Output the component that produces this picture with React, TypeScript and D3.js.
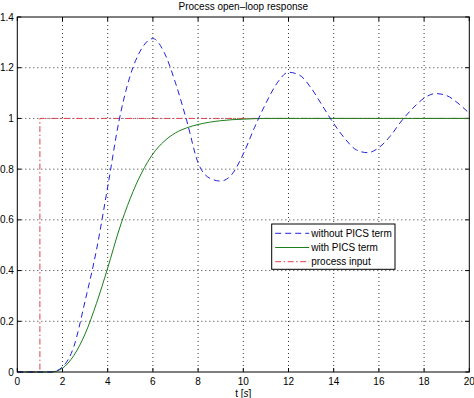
import React, { useRef, useEffect } from 'react';
import * as d3 from 'd3';

// time samples [s]
const tValues = [0, 1, 1.5, 2, 2.5, 3, 3.5, 4, 4.5, 5, 5.5, 6, 6.5, 7, 7.5, 8, 8.5, 9, 9.5, 10,
  10.5, 11, 11.5, 12, 12.5, 13, 13.5, 14, 14.5, 15, 15.5, 16, 16.5, 17, 17.5, 18, 18.5, 19, 19.5, 20];

// response without PICS term
const withoutPics = [0, 0, 0, 0.02, 0.1, 0.28, 0.48, 0.73, 0.99, 1.17, 1.275, 1.315, 1.26, 1.14, 0.99, 0.825, 0.765, 0.753, 0.78, 0.86,
  0.965, 1.06, 1.14, 1.182, 1.17, 1.12, 1.05, 0.98, 0.92, 0.876, 0.865, 0.885, 0.93, 0.99, 1.04, 1.08, 1.098, 1.09, 1.06, 1.02];

// response with PICS term
const withPics = [0, 0, 0, 0.015, 0.065, 0.15, 0.27, 0.41, 0.56, 0.685, 0.785, 0.86, 0.91, 0.943, 0.963, 0.976, 0.985, 0.991, 0.995, 0.997,
  0.999, 1, 1, 1, 1, 1, 1, 1, 1, 1, 1, 1, 1, 1, 1, 1, 1, 1, 1, 1];

// step input
const inputT = [0, 1, 1, 20];
const inputV = [0, 0, 1, 1];

const xTicks = [0, 2, 4, 6, 8, 10, 12, 14, 16, 18, 20];
const yTicks = [0, 0.2, 0.4, 0.6, 0.8, 1, 1.2, 1.4];

const legendLabels = ['without PICS term', 'with PICS term', 'process input'];

const width = 474;
const height = 398;
const font = '"Liberation Sans", Arial, Helvetica, sans-serif';

const App: React.FC = () => {
  const svgRef = useRef<SVGSVGElement | null>(null);

  useEffect(() => {
    const svg = d3.select(svgRef.current);
    svg.selectAll('*').remove();

    const margin = { top: 17, right: 4.7, bottom: 26, left: 17.3 };
    const innerWidth = width - margin.left - margin.right;
    const innerHeight = height - margin.top - margin.bottom;

    const x = d3.scaleLinear().domain([0, 20]).range([0, innerWidth]);
    const y = d3.scaleLinear().domain([0, 1.4]).range([innerHeight, 0]);

    const g = svg.append('g').attr('transform', `translate(${margin.left},${margin.top})`);

    g.append('rect')
      .attr('width', innerWidth)
      .attr('height', innerHeight)
      .attr('fill', '#fff');

    // dotted grid
    g.selectAll('line.vgrid')
      .data(xTicks.slice(1, -1))
      .enter()
      .append('line')
      .attr('x1', d => x(d)).attr('x2', d => x(d))
      .attr('y1', 0).attr('y2', innerHeight)
      .attr('stroke', '#000')
      .attr('stroke-width', 0.8)
      .attr('stroke-dasharray', '1,3');
    g.selectAll('line.hgrid')
      .data(yTicks.slice(1, -1))
      .enter()
      .append('line')
      .attr('x1', 0).attr('x2', innerWidth)
      .attr('y1', d => y(d)).attr('y2', d => y(d))
      .attr('stroke', '#000')
      .attr('stroke-width', 0.8)
      .attr('stroke-dasharray', '1,3');

    // inward ticks on all four sides
    const tickLen = 4;
    xTicks.forEach(t => {
      g.append('line').attr('x1', x(t)).attr('x2', x(t)).attr('y1', innerHeight).attr('y2', innerHeight - tickLen).attr('stroke', '#000');
      g.append('line').attr('x1', x(t)).attr('x2', x(t)).attr('y1', 0).attr('y2', tickLen).attr('stroke', '#000');
    });
    yTicks.forEach(v => {
      g.append('line').attr('x1', 0).attr('x2', tickLen).attr('y1', y(v)).attr('y2', y(v)).attr('stroke', '#000');
      g.append('line').attr('x1', innerWidth).attr('x2', innerWidth - tickLen).attr('y1', y(v)).attr('y2', y(v)).attr('stroke', '#000');
    });

    // tick labels
    g.selectAll('text.xtick')
      .data(xTicks)
      .enter()
      .append('text')
      .attr('x', d => x(d))
      .attr('y', innerHeight + 13)
      .attr('text-anchor', 'middle')
      .attr('font-family', font)
      .attr('font-size', 10)
      .text(d => String(d));
    g.selectAll('text.ytick')
      .data(yTicks)
      .enter()
      .append('text')
      .attr('x', -3.5)
      .attr('y', d => y(d) + 3.5)
      .attr('text-anchor', 'end')
      .attr('font-family', font)
      .attr('font-size', 10)
      .text(d => String(d));

    // curves
    const line = d3.line<[number, number]>()
      .x(d => x(d[0]))
      .y(d => y(d[1]));
    const smooth = d3.line<[number, number]>()
      .x(d => x(d[0]))
      .y(d => y(d[1]))
      .curve(d3.curveMonotoneX);

    const plot = g.append('g');

    plot.append('path')
      .attr('d', line(inputT.map((t, i) => [t, inputV[i]] as [number, number])))
      .attr('fill', 'none')
      .attr('stroke', '#e0404f')
      .attr('stroke-width', 1)
      .attr('stroke-dasharray', '6,2.5,1.5,2.5');

    plot.append('path')
      .attr('d', smooth(tValues.map((t, i) => [t, withPics[i]] as [number, number])))
      .attr('fill', 'none')
      .attr('stroke', '#1a7f1a')
      .attr('stroke-width', 1);

    plot.append('path')
      .attr('d', smooth(tValues.map((t, i) => [t, withoutPics[i]] as [number, number])))
      .attr('fill', 'none')
      .attr('stroke', '#2222dd')
      .attr('stroke-width', 1)
      .attr('stroke-dasharray', '6,4');

    // axes box
    g.append('rect')
      .attr('width', innerWidth)
      .attr('height', innerHeight)
      .attr('fill', 'none')
      .attr('stroke', '#000')
      .attr('stroke-width', 1);

    // title and x label
    svg.append('text')
      .attr('x', margin.left + innerWidth / 2)
      .attr('y', 10)
      .attr('text-anchor', 'middle')
      .attr('font-family', font)
      .attr('font-size', 10)
      .text('Process open\u2013loop response');

    const xl = svg.append('text')
      .attr('x', margin.left + innerWidth / 2)
      .attr('y', height - 1)
      .attr('text-anchor', 'middle')
      .attr('font-family', font)
      .attr('font-size', 10);
    xl.append('tspan').text('t [');
    xl.append('tspan').attr('font-style', 'italic').text('s');
    xl.append('tspan').text(']');

    // legend
    const lg = svg.append('g').attr('transform', 'translate(271.7,224)');
    lg.append('rect')
      .attr('width', 123.3)
      .attr('height', 45.3)
      .attr('fill', '#fff')
      .attr('stroke', '#000')
      .attr('stroke-width', 1);
    const styles = [
      { color: '#2222dd', dash: '6,4' },
      { color: '#1a7f1a', dash: null },
      { color: '#e0404f', dash: '6,2.5,1.5,2.5' },
    ];
    legendLabels.forEach((label, i) => {
      const ly = 9.3 + i * 14.2;
      const l = lg.append('line')
        .attr('x1', 3.5).attr('x2', 37.5)
        .attr('y1', ly).attr('y2', ly)
        .attr('stroke', styles[i].color)
        .attr('stroke-width', 1);
      if (styles[i].dash) l.attr('stroke-dasharray', styles[i].dash);
      lg.append('text')
        .attr('x', 39.5)
        .attr('y', ly + 3.6)
        .attr('font-family', font)
        .attr('font-size', 10)
        .text(label);
    });
  }, []);

  return (
    <svg
      ref={svgRef}
      width={width}
      height={height}
      style={{ position: 'absolute', left: 0, top: 0, background: '#fff' }}
    />
  );
};

export default App;
